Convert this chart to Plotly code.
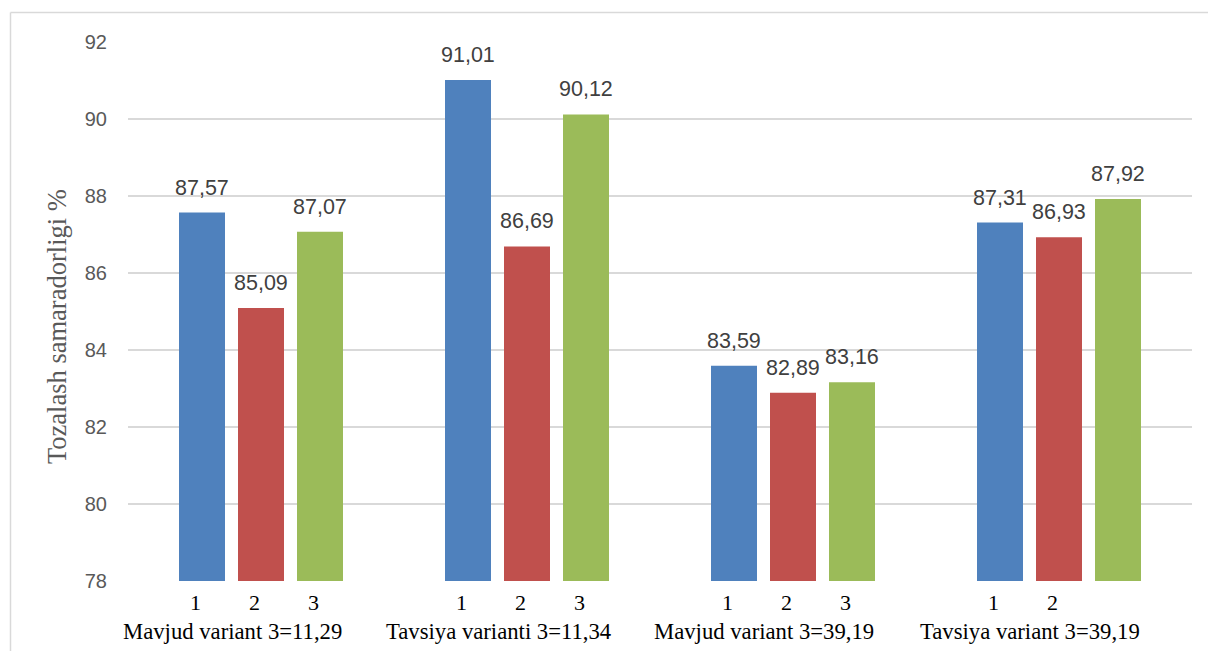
import plotly.graph_objects as go

# Group captions and the per-bar numbers printed under each bar
groups = [
    "Mavjud variant 3=11,29",
    "Tavsiya varianti 3=11,34",
    "Mavjud variant 3=39,19",
    "Tavsiya variant 3=39,19",
]
sub_labels = [
    ["1", "2", "3"],
    ["1", "2", "3"],
    ["1", "2", "3"],
    ["1", "2", ""],
]

# Cleaning efficiency (%) for the three runs in each group
series_1 = [87.57, 91.01, 83.59, 87.31]
series_2 = [85.09, 86.69, 82.89, 86.93]
series_3 = [87.07, 90.12, 83.16, 87.92]
series = [series_1, series_2, series_3]
colors = ["#4F81BD", "#C0504D", "#9BBB59"]

y_ticks = [78, 80, 82, 84, 86, 88, 90, 92]
y_title = "Tozalash samaradorligi %"

# Geometry (plot area 128..1192 px wide, 4 groups)
L, R, T, B = 128, 16, 42, 70
W, H = 1208, 651
plot_w = W - L - R
plot_h = H - T - B
group_px = plot_w / len(groups)
slot = 59 / group_px        # bar pitch in data units
bar_w = 46 / group_px       # bar width in data units

fig = go.Figure()
annotations = []

for i, (vals, col) in enumerate(zip(series, colors)):
    xs = [g + (i - 1) * slot for g in range(len(groups))]
    fig.add_trace(go.Bar(
        x=xs, y=[v - y_ticks[0] for v in vals], base=y_ticks[0],
        width=bar_w, marker=dict(color=col, line=dict(width=0)),
        showlegend=False, hoverinfo="skip",
    ))
    for x, v in zip(xs, vals):
        annotations.append(dict(
            x=x, y=v, xref="x", yref="y", yanchor="middle",
            yshift=25, showarrow=False,
            text=f"{v:.2f}".replace(".", ","),
            font=dict(family="Liberation Sans", size=21.5, color="#404040"),
        ))

# Labels under the bars and group captions
for g, labs in enumerate(sub_labels):
    for i, lab in enumerate(labs):
        if lab:
            annotations.append(dict(
                x=g + (i - 1) * slot, y=0, xref="x", yref="paper",
                yanchor="middle", yshift=-21, xshift=-7, showarrow=False,
                text=lab,
                font=dict(family="Liberation Serif", size=22, color="#000000"),
            ))
    annotations.append(dict(
        x=g, y=0, xref="x", yref="paper", yanchor="middle",
        yshift=-50, xshift=-29, showarrow=False, text=groups[g],
        font=dict(family="Liberation Serif", size=22.7, color="#000000"),
    ))

# Y axis title
annotations.append(dict(
    x=(57 - L) / plot_w, y=(H - B - 327) / plot_h, xref="paper", yref="paper",
    xanchor="center", yanchor="middle", textangle=-90, showarrow=False,
    text=y_title,
    font=dict(family="Liberation Serif", size=26.5, color="#595959"),
))

# Light frame on the left and top edges
frame_x = (10.5 - L) / plot_w
frame_top = (H - B - 12.5) / plot_h
frame_bot = (H - B - H - 5) / plot_h
shapes = [
    dict(type="line", xref="paper", yref="paper", x0=frame_x, x1=frame_x,
         y0=frame_bot, y1=frame_top, line=dict(color="#D9D9D9", width=1.5)),
    dict(type="line", xref="paper", yref="paper", x0=frame_x, x1=(W + 5 - L) / plot_w,
         y0=frame_top, y1=frame_top, line=dict(color="#D9D9D9", width=1.5)),
]

fig.update_layout(
    width=W, height=H,
    margin=dict(l=L, r=R, t=T, b=B),
    paper_bgcolor="white", plot_bgcolor="white",
    barmode="overlay",
    annotations=annotations,
    shapes=shapes,
    xaxis=dict(range=[-0.5, len(groups) - 0.5], showticklabels=False,
               showgrid=False, zeroline=False, showline=False),
    yaxis=dict(range=[y_ticks[0], y_ticks[-1]], tickvals=y_ticks,
               showgrid=True, gridcolor="#D9D9D9", gridwidth=1.5,
               zeroline=False, showline=False, ticks="",
               ticklabelstandoff=20,
               tickfont=dict(family="Liberation Sans", size=20, color="#595959")),
)

fig.write_html("out.html")
